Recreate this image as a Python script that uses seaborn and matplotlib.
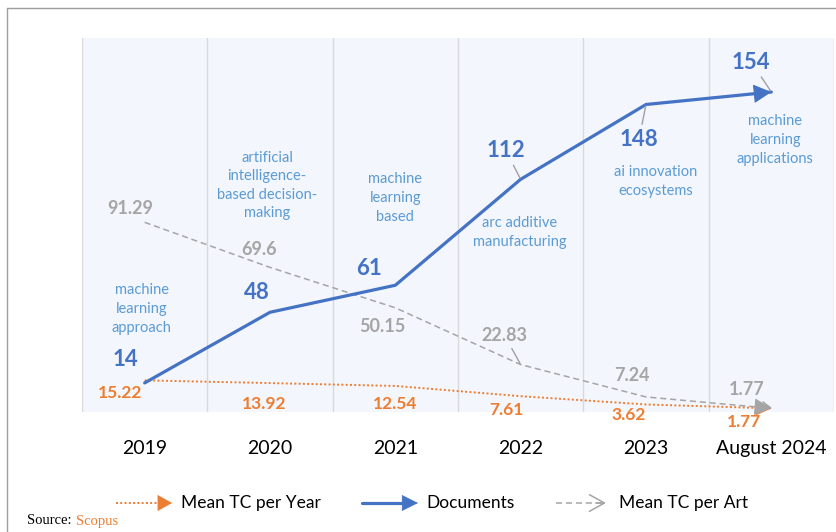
import matplotlib
matplotlib.use("Agg")
import matplotlib.pyplot as plt
import seaborn as sns
import pandas as pd
from matplotlib.lines import Line2D

# ---- data ----
years = ["2019", "2020", "2021", "2022", "2023", "August 2024"]
documents = [14, 48, 61, 112, 148, 154]
mean_tc_art = [91.29, 69.6, 50.15, 22.83, 7.24, 1.77]
mean_tc_year = [15.22, 13.92, 12.54, 7.61, 3.62, 1.77]
topics = ["machine\nlearning\napproach",
          "artificial\nintelligence-\nbased decision-\nmaking",
          "machine\nlearning\nbased",
          "arc additive\nmanufacturing",
          "ai innovation\necosystems",
          "machine\nlearning\napplications"]

# ---- layout (label placement, pixels / axis units) ----
doc_off = [(-19, 23), (-13, 20), (-26, 17), (-15, 29), (-7, -35), (-20, 30)]
doc_leader = [False, False, False, True, True, True]
art_off = [(-14, 14), (-11, 18), (-13, -19), (-16, 29), (-14, 21), (-25, 19)]
art_leader = [False, False, False, True, False, True]
yr_off = [(-25, -13), (-6, -21), (0, -18), (-14, -14), (-17, -11), (-27, -14)]
topic_y = [49.6, 109, 103, 86.4, 110.9, 130.9]
topic_dx = [-3, -3, 0, -1, 10, 4]

BLUE = "#4472C4"
TOPIC = "#5B9BD5"
GRAY = "#A5A5A5"
ORANGE = "#ED7D31"
BG = "#F3F6FC"

sns.set_theme(style="white")
plt.rcParams['font.family'] = ['Lato', 'DejaVu Sans']

fig = plt.figure(figsize=(8.36, 5.32), dpi=100)
ax = fig.add_axes([82/836, 1-412/532, 752/836, 374/532])
ax.set_facecolor(BG)

df = pd.DataFrame({"pos": list(range(len(years))), "Documents": documents,
                   "Art": mean_tc_art, "Year": mean_tc_year})

sns.lineplot(data=df, x="pos", y="Year", ax=ax, color=ORANGE, lw=1.4,
             linestyle=(0, (1, 1.2)), zorder=3)
sns.lineplot(data=df, x="pos", y="Art", ax=ax, color=GRAY, lw=1.1,
             linestyle=(0, (4, 2.5)), zorder=3)
sns.lineplot(data=df, x="pos", y="Documents", ax=ax, color=BLUE, lw=2.3, zorder=4)

n = len(years)


def end_head(vals, color, hl, hw, z):
    x1, y1 = n - 1, vals[-1]
    x0 = x1 - 0.12
    y0 = vals[-1] + 0.12 * (vals[-2] - vals[-1])
    ax.annotate("", xy=(x1, y1), xytext=(x0, y0),
                arrowprops=dict(arrowstyle=f"-|>,head_length={hl},head_width={hw}",
                                color=color, lw=0.8, shrinkA=0, shrinkB=0),
                zorder=z)


end_head(mean_tc_year, ORANGE, 0.8, 0.4, 3)
end_head(mean_tc_art, GRAY, 0.9, 0.45, 3)
end_head(documents, BLUE, 0.95, 0.5, 5)

ax.set_xlim(-0.5, n - 0.5)
ax.set_ylim(0, 180)
ax.set_xticks(range(n))
ax.set_xticklabels(years, fontsize=14, color="black")
ax.set_xticks([i - 0.5 for i in range(n + 1)], minor=True)
ax.grid(True, which="minor", axis="x", color="#D9D9D9", lw=1)
ax.grid(False, which="major")
ax.tick_params(axis="x", which="both", length=0, pad=20)
ax.set_yticks([])
ax.set_xlabel("")
ax.set_ylabel("")
for s in ax.spines.values():
    s.set_visible(False)


def label(vals, offs, leaders, color, size):
    for i, v in enumerate(vals):
        txt = f"{v:g}"
        ap = None
        if leaders[i]:
            ap = dict(arrowstyle="-", color="#A0A0A0", lw=1, shrinkA=1, shrinkB=1)
        ax.annotate(txt, xy=(i, v), xytext=offs[i], textcoords="offset pixels",
                    ha="center", va="center", color=color, fontsize=size,
                    fontweight="bold", arrowprops=ap, zorder=6)


label(documents, doc_off, doc_leader, BLUE, 16)
label(mean_tc_art, art_off, art_leader, GRAY, 13)
label(mean_tc_year, yr_off, [False] * n, ORANGE, 12.5)

for i, t in enumerate(topics):
    ax.annotate(t, xy=(i, topic_y[i]), xytext=(topic_dx[i], 0),
                textcoords="offset pixels", ha="center", va="center",
                color=TOPIC, fontsize=10.5, linespacing=1.42, zorder=6)

# ---- frame lines ----
fig.add_artist(Line2D([7/836, 1], [1-8/532, 1-8/532], transform=fig.transFigure,
                      color="#9E9E9E", lw=1))
fig.add_artist(Line2D([7/836, 7/836], [1-8/532, 0], transform=fig.transFigure,
                      color="#9E9E9E", lw=1))

# ---- legend ----
ly = 532 - 503
fig.add_artist(Line2D([116, 162], [ly, ly], transform=None, color=ORANGE,
                      lw=1.4, linestyle=(0, (1, 1.2))))
ax.annotate("", xy=(172, ly), xytext=(160, ly), xycoords="figure pixels",
            textcoords="figure pixels",
            arrowprops=dict(arrowstyle="-|>,head_length=0.8,head_width=0.45",
                            color=ORANGE, lw=0.5, shrinkA=0, shrinkB=0),
            annotation_clip=False)
fig.text(181, ly, "Mean TC per Year", transform=None, fontsize=12.5,
         va="center", ha="left", color="black")

fig.add_artist(Line2D([362, 408], [ly, ly], transform=None, color=BLUE, lw=2.3))
ax.annotate("", xy=(418, ly), xytext=(404, ly), xycoords="figure pixels",
            textcoords="figure pixels",
            arrowprops=dict(arrowstyle="-|>,head_length=0.9,head_width=0.45",
                            color=BLUE, lw=0.5, shrinkA=0, shrinkB=0),
            annotation_clip=False)
fig.text(426, ly, "Documents", transform=None, fontsize=12.5,
         va="center", ha="left", color="black")

fig.add_artist(Line2D([556, 604], [ly, ly], transform=None, color=GRAY,
                      lw=1.1, linestyle=(0, (4, 2.5))))
ax.annotate("", xy=(606, ly), xytext=(596, ly), xycoords="figure pixels",
            textcoords="figure pixels",
            arrowprops=dict(arrowstyle="->,head_length=0.9,head_width=0.5",
                            color=GRAY, lw=1.1, shrinkA=0, shrinkB=0),
            annotation_clip=False)
fig.text(619, ly, "Mean TC per Art", transform=None, fontsize=12.5,
         va="center", ha="left", color="black")

src = fig.text(27, 11, "Source: ", transform=None, fontsize=10.5,
               family="Liberation Serif", va="center", ha="left", color="black")
renderer = fig.canvas.get_renderer()
bb = src.get_window_extent(renderer=renderer)
fig.text(bb.x1 + 1, 11, "Scopus", transform=None, fontsize=10.5,
         family="Liberation Serif", va="center", ha="left", color=ORANGE)

fig.savefig("out.png", dpi=100)
